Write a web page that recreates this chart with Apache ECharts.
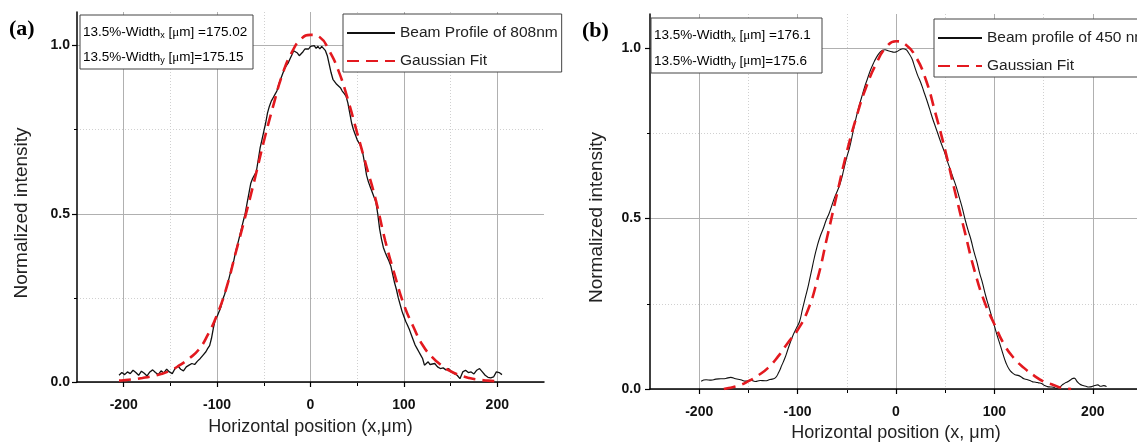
<!DOCTYPE html>
<html>
<head>
<meta charset="utf-8">
<script src="https://cdn.jsdelivr.net/npm/echarts@6/dist/echarts.min.js"></script>
<style>
  html, body { margin: 0; padding: 0; background: #fff; }
  #chart { width: 1137px; height: 445px; }
</style>
</head>
<body>
<div id="chart"></div>
<script>
// ---- tick values ----
var xMajor = [-200, -100, 0, 100, 200];
var xMinor = [-150, -50, 50, 150];
var yMajor = [0, 0.5, 1.0];
var yMinor = [0.25, 0.75];

// ---- (a) 808 nm: measured profile [x, intensity] ----
var profileA = [
  [-205,0.02],[-202,0.028],[-199,0.022],[-196,0.03],[-193,0.025],[-190,0.035],[-187,0.028],[-184,0.02],
  [-181,0.032],[-178,0.026],[-175,0.018],[-172,0.03],[-169,0.036],[-166,0.028],[-163,0.022],[-160,0.033],
  [-157,0.027],[-154,0.038],[-151,0.03],[-148,0.025],[-145,0.04],[-142,0.048],[-139,0.038],[-136,0.033],
  [-133,0.045],[-130,0.05],[-127,0.055],[-124,0.052],[-121,0.062],[-118,0.07],[-115,0.08],[-112,0.09],
  [-110,0.1],[-108,0.108],[-106,0.13],[-104,0.16],[-102,0.185],[-100,0.195],[-98,0.2],[-96,0.222],
  [-94,0.245],[-92,0.26],[-90,0.28],[-88,0.3],[-86,0.322],[-84,0.345],[-82,0.362],[-80,0.39],
  [-78,0.41],[-76,0.432],[-74,0.455],[-72,0.478],[-70,0.5],[-68,0.53],[-66,0.56],[-64,0.59],
  [-62,0.605],[-60,0.615],[-58,0.625],[-56,0.66],[-54,0.695],[-52,0.72],[-50,0.745],[-48,0.77],
  [-46,0.8],[-44,0.82],[-42,0.835],[-40,0.845],[-38,0.855],[-36,0.865],[-34,0.885],[-32,0.9],
  [-30,0.915],[-28,0.93],[-26,0.94],[-24,0.948],[-22,0.96],[-20,0.972],[-18,0.985],[-16,0.99],
  [-14,0.978],[-12,0.97],[-10,0.968],[-8,0.982],[-6,0.99],[-4,0.995],[-2,0.99],[0,0.998],
  [2,0.994],[4,1.0],[6,0.992],[8,0.998],[10,0.99],[12,0.998],[14,0.995],[16,0.985],
  [18,0.97],[20,0.945],[22,0.92],[24,0.9],[26,0.895],[28,0.885],[30,0.88],[32,0.875],
  [34,0.865],[36,0.858],[38,0.85],[40,0.83],[42,0.8],[44,0.77],[46,0.75],[48,0.735],
  [50,0.72],[52,0.71],[54,0.7],[56,0.68],[58,0.65],[60,0.615],[62,0.595],[64,0.58],
  [66,0.565],[68,0.55],[70,0.535],[72,0.5],[74,0.455],[76,0.425],[78,0.4],[80,0.385],
  [82,0.372],[84,0.36],[86,0.345],[88,0.32],[90,0.295],[92,0.275],[94,0.25],[96,0.23],
  [98,0.21],[100,0.195],[102,0.18],[104,0.168],[106,0.155],[108,0.14],[110,0.125],[112,0.11],
  [114,0.1],[116,0.09],[118,0.08],[120,0.07],[122,0.05],[124,0.055],[126,0.06],[128,0.052],
  [130,0.048],[133,0.055],[136,0.045],[139,0.04],[142,0.042],[145,0.036],[148,0.04],[151,0.03],
  [154,0.025],[157,0.02],[160,0.01],[163,0.03],[166,0.035],[169,0.028],[172,0.03],[175,0.024],
  [178,0.035],[181,0.04],[184,0.03],[187,0.02],[190,0.014],[193,0.012],[196,0.015],[199,0.03],
  [202,0.028],[205,0.022]
];

// ---- (a) Gaussian fit ----
var fitA = [
  [-205,0.004],[-200,0.005],[-190,0.008],[-180,0.012],[-170,0.017],[-160,0.024],[-150,0.034],[-140,0.05],
  [-130,0.07],[-120,0.095],[-110,0.14],[-100,0.2],[-90,0.28],[-80,0.385],[-70,0.49],[-60,0.6],
  [-50,0.715],[-40,0.82],[-30,0.915],[-20,0.98],[-10,1.02],[0,1.032],[10,1.025],[20,0.985],
  [30,0.925],[40,0.84],[50,0.74],[60,0.64],[70,0.54],[80,0.42],[90,0.32],[100,0.23],
  [110,0.165],[120,0.11],[130,0.075],[140,0.05],[150,0.032],[160,0.02],[170,0.012],[180,0.007],
  [190,0.004],[200,0.002]
];

// ---- (b) 450 nm: measured profile ----
var profileB = [
  [-198,0.023],[-193,0.027],[-188,0.026],[-183,0.029],[-178,0.03],[-173,0.031],[-168,0.034],[-163,0.03],
  [-158,0.027],[-153,0.023],[-148,0.026],[-143,0.022],[-138,0.025],[-133,0.024],[-128,0.028],[-123,0.032],
  [-119,0.05],[-116,0.07],[-113,0.09],[-110,0.115],[-107,0.14],[-104,0.162],[-101,0.18],[-98,0.198],
  [-95,0.235],[-92,0.27],[-89,0.305],[-86,0.345],[-83,0.385],[-80,0.42],[-77,0.448],[-74,0.47],
  [-71,0.495],[-68,0.515],[-65,0.54],[-62,0.565],[-59,0.585],[-56,0.61],[-53,0.645],[-50,0.68],
  [-47,0.71],[-44,0.75],[-41,0.79],[-38,0.825],[-35,0.855],[-32,0.885],[-29,0.91],[-26,0.935],
  [-23,0.955],[-20,0.972],[-17,0.985],[-14,0.993],[-11,0.995],[-8,0.992],[-5,0.99],[-2,0.988],
  [1,0.99],[4,0.995],[7,0.998],[10,0.996],[13,0.985],[16,0.97],[19,0.945],[22,0.92],
  [25,0.9],[28,0.875],[31,0.85],[34,0.823],[37,0.795],[40,0.77],[43,0.745],[46,0.72],
  [49,0.697],[52,0.67],[55,0.645],[58,0.62],[61,0.595],[64,0.565],[67,0.535],[70,0.5],
  [73,0.468],[76,0.44],[79,0.405],[82,0.375],[85,0.34],[88,0.31],[91,0.275],[94,0.245],
  [97,0.215],[100,0.185],[103,0.155],[106,0.128],[109,0.1],[112,0.075],[115,0.058],[118,0.048],
  [121,0.042],[124,0.04],[127,0.036],[130,0.03],[133,0.028],[136,0.025],[139,0.021],[142,0.02],
  [145,0.018],[148,0.016],[151,0.01],[154,0.007],[157,0.006],[160,0.005],[163,0.002],[166,0.005],
  [169,0.012],[172,0.018],[175,0.022],[178,0.028],[181,0.032],[184,0.022],[187,0.014],[190,0.01],
  [193,0.008],[196,0.006],[199,0.007],[202,0.01],[205,0.012],[208,0.008],[211,0.01],[214,0.007]
];

// ---- (b) Gaussian fit ----
var fitB = [
  [-175,0.0],[-170,0.003],[-160,0.01],[-150,0.023],[-140,0.04],[-130,0.062],[-120,0.095],[-110,0.135],
  [-100,0.173],[-90,0.228],[-80,0.32],[-70,0.445],[-60,0.572],[-50,0.695],[-40,0.8],[-30,0.888],
  [-20,0.955],[-10,1.003],[0,1.02],[10,1.01],[20,0.975],[30,0.91],[40,0.81],[50,0.7],
  [60,0.578],[70,0.46],[80,0.345],[90,0.255],[100,0.19],[110,0.13],[120,0.09],[130,0.062],
  [140,0.04],[150,0.022],[160,0.012],[165,0.006],[170,0.002],[178,0.0]
];

var FONT = 'Liberation Sans, Arial, sans-serif';
var RED = '#e3191f';

function xAxes(grid, title, labelMargin, nameGap) {
  return [{
    type: 'value', gridIndex: grid, position: 'bottom', min: -250, max: 250, z: 3,
    axisLine: { show: true, onZero: false, lineStyle: { color: '#000', width: 1.5 } },
    axisTick: { show: true, customValues: xMajor, length: 5, lineStyle: { color: '#000', width: 1.2 } },
    axisLabel: { customValues: xMajor, margin: labelMargin, color: '#111', fontWeight: 'bold', fontSize: 14, fontFamily: FONT },
    splitLine: { show: true, lineStyle: { color: '#b0b0b0', width: 1 } },
    name: title, nameLocation: 'middle', nameGap: nameGap,
    nameTextStyle: { fontSize: 18, color: '#222', fontFamily: FONT }
  }, {
    type: 'value', gridIndex: grid, position: 'bottom', min: -250, max: 250, z: 1,
    axisLine: { show: false, onZero: false },
    axisTick: { show: true, customValues: xMinor, length: 4, lineStyle: { color: '#000', width: 1 } },
    axisLabel: { show: false },
    splitLine: { show: true, lineStyle: { color: '#d0d0d0', width: 1, type: [1, 2] } }
  }];
}

function yAxes(grid, labelMargin, nameGap) {
  return [{
    type: 'value', gridIndex: grid, position: 'left', min: 0, max: 1.1, z: 3,
    axisLine: { show: true, onZero: false, lineStyle: { color: '#000', width: 1.5 } },
    axisTick: { show: true, customValues: yMajor, length: 5, lineStyle: { color: '#000', width: 1.2 } },
    axisLabel: {
      customValues: yMajor, margin: labelMargin, color: '#111', fontWeight: 'bold', fontSize: 14, fontFamily: FONT,
      formatter: function (v) { return v.toFixed(1); }
    },
    splitLine: { show: true, lineStyle: { color: '#b0b0b0', width: 1 } },
    name: 'Normalized intensity', nameLocation: 'middle', nameGap: nameGap,
    nameTextStyle: { fontSize: 19, color: '#222', fontFamily: FONT, padding: [0, 32, 0, 0] }
  }, {
    type: 'value', gridIndex: grid, position: 'left', min: 0, max: 1.1, z: 1,
    axisLine: { show: false, onZero: false },
    axisTick: { show: true, customValues: yMinor, length: 3, lineStyle: { color: '#000', width: 1 } },
    axisLabel: { show: false },
    splitLine: { show: true, lineStyle: { color: '#d0d0d0', width: 1, type: [1, 2] } }
  }];
}

function noteBox(x, y, w, h, wx, wy) {
  var rich = {
    t: { fontSize: 13.5, fontFamily: FONT, color: '#222' },
    s: { fontSize: 9, fontFamily: FONT, color: '#222', padding: [7, 0, 0, 0] },
    u: { fontSize: 13, fontFamily: 'Liberation Serif, serif', color: '#222' }
  };
  return [
    { type: 'rect', shape: { x: x, y: y, width: w, height: h }, style: { fill: '#fff', stroke: '#444', lineWidth: 1 }, z: 20 },
    { type: 'text', x: x + 3, y: y + h * 0.32, z: 21,
      style: { text: '{t|13.5%-Width}{s|x}{t| [}{u|μ}{t|m] =' + wx + '}', rich: rich, verticalAlign: 'middle' } },
    { type: 'text', x: x + 3, y: y + h * 0.78, z: 21,
      style: { text: '{t|13.5%-Width}{s|y}{t| [}{u|μ}{t|m]=' + wy + '}', rich: rich, verticalAlign: 'middle' } }
  ];
}

var legendBase = {
  orient: 'vertical', itemHeight: 14, itemGap: 12,
  padding: [11, 4, 3, 3], backgroundColor: '#fff', borderColor: '#444', borderWidth: 1,
  itemStyle: { opacity: 0 },
  textStyle: { fontSize: 15.5, color: '#222', fontFamily: FONT }
};

var chart = echarts.init(document.getElementById('chart'));
chart.setOption({
  animation: false,
  backgroundColor: '#fff',
  grid: [
    { left: 77, right: 593, top: 12, bottom: 63, outerBoundsMode: 'none' },
    { left: 650, right: -5, top: 14, bottom: 56, outerBoundsMode: 'none' }
  ],
  xAxis: xAxes(0, 'Horizontal position (x,μm)', 16, 36).concat(xAxes(1, 'Horizontal position (x, μm)', 16, 35)),
  yAxis: yAxes(0, 7, 46).concat(yAxes(1, 9, 44)),
  legend: [
    Object.assign({ data: ['Beam Profile of 808nm', 'Gaussian Fit'], left: 343, top: 14, itemWidth: 48 }, legendBase),
    Object.assign({ data: ['Beam profile of 450 nm', 'Gaussian Fit'], left: 934, top: 19, itemWidth: 44 }, legendBase)
  ],
  graphic: [
    { type: 'text', left: 9, top: 18, style: { text: '(a)', fontSize: 22, fontWeight: 'bold', fontFamily: 'Liberation Serif, serif', fill: '#000' } },
    { type: 'text', left: 582, top: 20, style: { text: '(b)', fontSize: 22, fontWeight: 'bold', fontFamily: 'Liberation Serif, serif', fill: '#000' } }
  ].concat(noteBox(80, 15, 173, 54, '175.02', '175.15'), noteBox(651, 18, 171, 55, '176.1', '175.6')),
  series: [
    { name: 'Beam Profile of 808nm', type: 'line', xAxisIndex: 0, yAxisIndex: 0, data: profileA,
      symbol: 'none', lineStyle: { color: '#111', width: 1.3 }, itemStyle: { color: '#111' }, z: 3 },
    { name: 'Gaussian Fit', type: 'line', xAxisIndex: 0, yAxisIndex: 0, data: fitA, smooth: true,
      symbol: 'none', lineStyle: { color: RED, width: 2.6, type: [12, 7] }, itemStyle: { color: RED }, z: 4 },
    { name: 'Beam profile of 450 nm', type: 'line', xAxisIndex: 2, yAxisIndex: 2, data: profileB, smooth: true,
      symbol: 'none', lineStyle: { color: '#111', width: 1.1 }, itemStyle: { color: '#111' }, z: 3 },
    { name: 'Gaussian Fit', type: 'line', xAxisIndex: 2, yAxisIndex: 2, data: fitB, smooth: true,
      symbol: 'none', lineStyle: { color: RED, width: 2.6, type: [12, 7] }, itemStyle: { color: RED }, z: 4 }
  ]
});
</script>
</body>
</html>
